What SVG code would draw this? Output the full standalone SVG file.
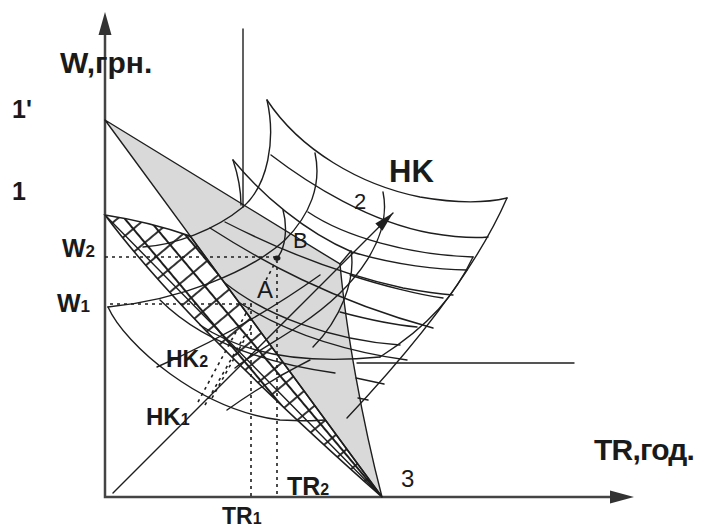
<svg xmlns="http://www.w3.org/2000/svg" width="702" height="530" viewBox="0 0 702 530">
<style>
.ln{fill:none;stroke:#1e1e1e;stroke-width:1.4;stroke-linecap:round}
.ax{fill:none;stroke:#444;stroke-width:2.5}
.dot{fill:none;stroke:#1e1e1e;stroke-width:1.6;stroke-dasharray:3 4}
.b{font-family:"Liberation Sans",Arial,sans-serif;font-weight:bold;fill:#1a1a1a}
.r{font-family:"Liberation Sans",Arial,sans-serif;fill:#1a1a1a}
</style>
<defs>
<pattern id="hatch" width="18" height="18" patternUnits="userSpaceOnUse" patternTransform="rotate(50)">
<rect width="18" height="18" fill="#fff"/>
<path d="M0,9H18M9,0V18" stroke="#1e1e1e" stroke-width="1.8"/>
</pattern>
<marker id="arr" viewBox="0 0 20 10" refX="20" refY="5" markerWidth="20" markerHeight="10" markerUnits="userSpaceOnUse" orient="auto">
<path d="M0,0L20,5L0,10Z" fill="#1e1e1e"/>
</marker>
</defs>
<g id="regions">
<path d="M105,120 L340,264 C346,330 362,420 382,497 Z" fill="#d9d9d9"/>
<path d="M105,215 Q150,222 190,236 L382,497 Q186.5,324 105,215 Z" fill="url(#hatch)" stroke="#1e1e1e" stroke-width="1.6"/>
</g>
<g id="axes">
<path class="ax" d="M105,30 V497 H612"/>
<path d="M105,12 L98.5,35 L111.5,35 Z" fill="#333"/>
<path d="M634,497 L610,490.5 L610,503.5 Z" fill="#333"/>
</g>
<g id="connectors">
<path class="ln" d="M105,120 L340,264 C346,330 362,420 382,497 L105,120"/>
<path class="ln" d="M105,215 L382,497"/>
<path class="ln" d="M243,29 V207"/>
<path class="ln" d="M357,363 H574"/>
<path class="ln" d="M267,100 C300,150 360,185 420,197 C460,204 490,202 507,198"/>
<path class="ln" d="M507,198 C480,260 430,330 347,418"/>
<path class="ln" d="M271,155 C310,185 370,222 430,233 C460,238 478,238 488,237"/>
<path class="ln" d="M233,160 C262,195 305,232 352,252 C395,265 440,270 467,270"/>
<path class="ln" d="M233,160 C238,175 241,190 241,205"/>
<path class="ln" d="M308,212 C345,237 410,255 473,257"/>
<path class="ln" d="M473,257 C455,295 430,325 380,357"/>
<path class="ln" d="M225,222 C270,245 330,272 403,288 C425,292 440,294 453,295"/>
<path class="ln" d="M350,275 C380,285 420,295 443,298"/>
<path class="ln" d="M210,228 C260,260 330,300 433,328"/>
<path class="ln" d="M340,312 C370,320 395,325 417,327"/>
<path class="ln" d="M225,283 C265,315 330,340 400,345"/>
<path class="ln" d="M240,303 C290,335 350,352 407,360"/>
<path class="ln" d="M200,325 C240,352 300,365 380,357"/>
<path class="ln" d="M267,100 C276,140 268,185 243,207 C215,230 175,245 143,247"/>
<path class="ln" d="M315,153 C322,185 310,215 285,240 C250,272 180,300 108,307"/>
<path class="ln" d="M351,251 C356,280 340,320 313,347"/>
<path class="ln" d="M340,264 L351,251"/>
<path class="ln" d="M383,192 C392,235 360,285 300,325 C275,342 255,352 235,368"/>
<path class="ln" d="M356,378 L384,384 M358,398 L368,400"/>
<path class="ln" d="M108,307 C125,345 200,410 280,420 C300,421 315,421 325,420"/>
<path class="ln" d="M160,300 C190,330 240,360 335,373"/>
<path class="ln" d="M157,367 C200,348 260,318 320,275"/>
<path class="ln" d="M227,410 C255,390 280,375 310,360"/>
<path class="ln" d="M113,493 L393,213" marker-end="url(#arr)"/>
<path class="ln" d="M283,210 C288,228 285,248 278,257"/>
<ellipse cx="277" cy="258" rx="3.5" ry="2.6" fill="#1e1e1e"/>
<path class="dot" d="M105,257 H276 M277,260 V497 M110,304 H252 M251,304 V497"/>
<path class="dot" d="M198,402 L250,306 M205,405 L245,335 M212,398 L252,326 M266,280 L276,261"/>
</g>
<g id="labels">
<text class="b" x="60" y="73" font-size="30">W,грн.</text>
<text class="b" x="12" y="118" font-size="25">1'</text>
<text class="b" x="12" y="200" font-size="25">1</text>
<text class="b" x="62" y="257" font-size="25">W<tspan font-size="17">2</tspan></text>
<text class="b" x="57" y="312" font-size="25">W<tspan font-size="17">1</tspan></text>
<text class="b" x="166" y="367" font-size="23">HK<tspan font-size="16">2</tspan></text>
<text class="b" x="146" y="425" font-size="24">HK<tspan font-size="16">1</tspan></text>
<text class="b" x="287" y="495" font-size="25">TR<tspan font-size="16">2</tspan></text>
<text class="b" x="222" y="524" font-size="23">TR<tspan font-size="16">1</tspan></text>
<text class="b" x="594" y="460" font-size="30" letter-spacing="-0.8">TR,год.</text>
<text class="b" x="389" y="182" font-size="31">HK</text>
<text class="r" x="401" y="487" font-size="24">3</text>
<text class="r" x="354" y="209" font-size="22">2</text>
<text class="r" x="293" y="248" font-size="22">B</text>
<text class="r" x="257" y="298" font-size="24">A</text>
</g>
</svg>
